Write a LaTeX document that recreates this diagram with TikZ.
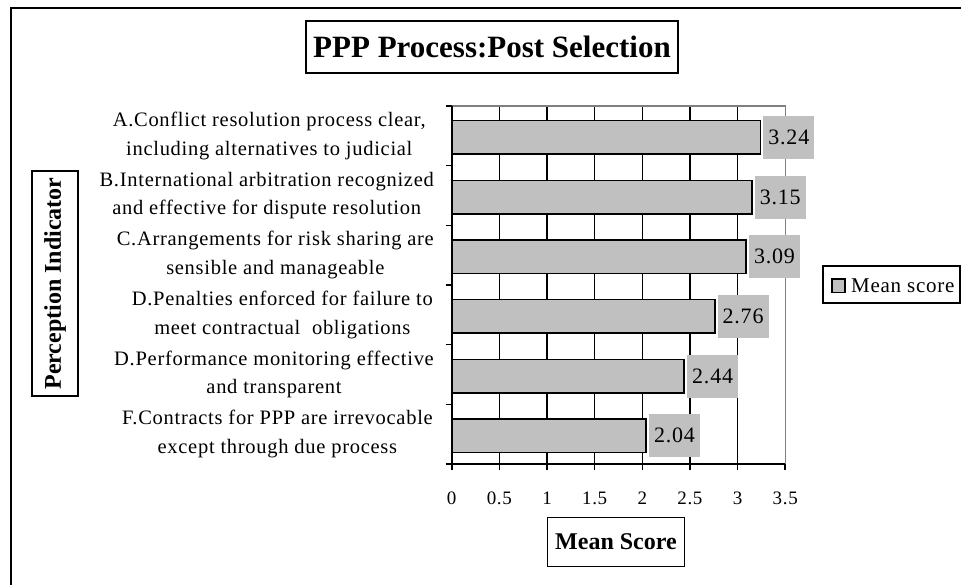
\documentclass[tikz,border=0pt]{standalone}
\usepackage{fontspec}
\setmainfont{Liberation Serif}
\newfontfamily\spacedfont[LetterSpace=3.5]{Liberation Serif}
\definecolor{barfill}{HTML}{C0C0C0}
\definecolor{framegray}{HTML}{808080}

\tikzset{
  titlebox/.style={draw=black, line width=1.8pt, inner sep=0pt, font=\bfseries},
  catlabel/.style={anchor=east, align=center, inner sep=0pt,
    font=\spacedfont\fontsize{20.5}{28.4}\selectfont},
  ticklabel/.style={inner sep=0pt, font=\spacedfont\fontsize{19}{22}\selectfont},
  valuebox/.style={fill=barfill, anchor=west, minimum width=51pt, minimum height=43pt,
    inner sep=0pt, font=\spacedfont\fontsize{22}{26}\selectfont},
  barbox/.style={draw=black, fill=barfill, line width=1.6pt},
  gridline/.style={draw=black, line width=1.4pt},
  axisline/.style={draw=black, line width=1.6pt},
}

\begin{document}
\begin{tikzpicture}[x=1pt,y=-1pt]
\useasboundingbox (0,0) rectangle (961,584);

% outer frame, running off the right and bottom edges
\begin{scope}
  \clip (0,0) rectangle (961,584);
  \draw[line width=2.2pt] (11,8) rectangle (990,610);
\end{scope}

% plot geometry: origin x, pixels per unit, top and bottom of plot area
\def\xo{451.7}
\def\un{95.3}
\def\ptop{106}
\def\pbot{464}
\def\band{59.667}

% vertical gridlines with ticks below the axis
\foreach \v in {0.5,1,...,3.0}
  \draw[gridline] ({\xo+\un*\v},\ptop) -- ({\xo+\un*\v},{\pbot+6});
% grey plot-area border on top and right
\draw[framegray, line width=1.4pt] (\xo,\ptop) -- ({\xo+\un*3.5},\ptop) -- ({\xo+\un*3.5},\pbot);
\draw[axisline] ({\xo+\un*3.5},\pbot) -- ({\xo+\un*3.5},{\pbot+6});

% bars and their value labels
\foreach \val [count=\i from 0] in {3.24,3.15,3.09,2.76,2.44,2.04} {
  \pgfmathsetmacro{\cy}{\ptop+(\i+0.5)*\band+1.5}
  \draw[barbox] (\xo,{\cy-16.7}) rectangle ({\xo+\un*\val},{\cy+16.7});
  \node[valuebox] (val\i) at ({\xo+\un*\val+2.7},\cy) {\val};
}

% axes with ticks
\draw[axisline] (\xo,\ptop) -- (\xo,\pbot) -- ({\xo+\un*3.5},\pbot);
\foreach \k in {0,...,6}
  \draw[axisline] ({\xo-6},{\ptop+\k*\band}) -- (\xo,{\ptop+\k*\band});
\draw[axisline] (\xo,\pbot) -- (\xo,{\pbot+6});

% tick labels on the value axis
\foreach \v/\t [count=\j] in {0/0,0.5/0.5,1/1,1.5/1.5,2/2,2.5/2.5,3/3,3.5/3.5}
  \node[ticklabel] (tick\j) at ({\xo+\un*\v},498) {\t};

% category labels
\node[catlabel] (catA) at (426,{\ptop+0.5*\band}) {A.Conflict resolution process clear,\\including alternatives to judicial};
\node[catlabel] (catB) at (434,{\ptop+1.5*\band}) {B.International arbitration recognized\\and effective for dispute resolution};
\node[catlabel] (catC) at (434,{\ptop+2.5*\band}) {C.Arrangements for risk sharing are\\sensible and manageable};
\node[catlabel] (catD) at (433,{\ptop+3.5*\band}) {D.Penalties enforced for failure to\\meet contractual\ \ obligations};
\node[catlabel] (catE) at (434,{\ptop+4.5*\band}) {D.Performance monitoring effective\\and transparent};
\node[catlabel] (catF) at (433,{\ptop+5.5*\band}) {F.Contracts for PPP are irrevocable\\except through due process};

% chart title and axis titles
\node[titlebox, minimum width=372pt, minimum height=52pt,
      font=\bfseries\fontsize{31}{36}\selectfont] (title) at (492,47) {PPP Process:Post Selection};
\node[titlebox, minimum width=225pt, minimum height=46pt, rotate=90,
      font=\bfseries\fontsize{24}{28}\selectfont] (ytitle) at (55,283.5) {Perception Indicator};
\node[titlebox, minimum width=137pt, minimum height=49pt,
      font=\bfseries\fontsize{24}{28}\selectfont] (xtitle) at (616,542) {Mean Score};

% legend
\node[draw=black, line width=1.6pt, minimum width=137pt, minimum height=37pt, inner sep=0pt] (legend) at (891.5,284.5) {};
\draw[barbox, line width=1.4pt] (832,279) rectangle (845,292.5);
\node[anchor=west, inner sep=0pt, font=\spacedfont\fontsize{21}{24}\selectfont] (legtext) at (851,285.5) {Mean score};
\end{tikzpicture}
\end{document}
